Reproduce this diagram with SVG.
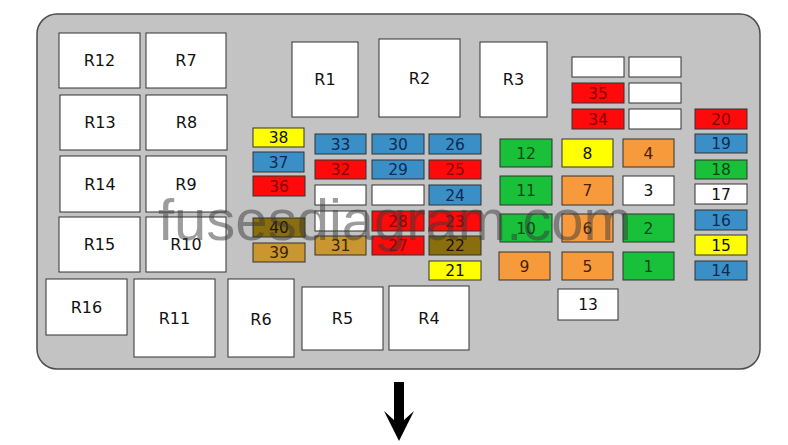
<svg xmlns="http://www.w3.org/2000/svg" width="788" height="445" viewBox="0 0 788 445">
<style>
.board{fill:#c3c3c3;stroke:#4d4d4d;stroke-width:1.5}
rect.n{stroke:#333;stroke-width:1}
.w{fill:#fff}.y{fill:#ffff00}.b{fill:#3b8fc7}.r{fill:#ff0a0a}.g{fill:#19c03a}.o{fill:#f79a3c}.ol{fill:#8a6d0c}.gd{fill:#c9962f}
text{font-family:"DejaVu Sans","Liberation Sans",sans-serif;text-anchor:middle}
.rl{font-size:16px;fill:#111}
.fl{font-size:15.5px}
.tw,.ty{fill:#111}.tb{fill:#0d2b55}.tr{fill:#8b0000}.tg{fill:#064a14}.to{fill:#4a1f00}.tol{fill:#1e1400}.tgd{fill:#3a2500}
.wm{font-family:"Liberation Sans",Arial,sans-serif;font-size:58px;fill:#3a3a3a;fill-opacity:0.5;text-anchor:start}
</style>
<rect class="board" x="37" y="14" width="723" height="355" rx="20"/>
<g id="R12"><rect class="n w" x="59" y="33" width="81" height="55"/><text class="rl" x="99.5" y="66">R12</text></g>
<g id="R7"><rect class="n w" x="146" y="33" width="80" height="55"/><text class="rl" x="186" y="66">R7</text></g>
<g id="R13"><rect class="n w" x="60" y="95" width="80" height="55"/><text class="rl" x="100" y="128">R13</text></g>
<g id="R8"><rect class="n w" x="146" y="95" width="81" height="55"/><text class="rl" x="186.5" y="128">R8</text></g>
<g id="R14"><rect class="n w" x="60" y="156" width="80" height="56"/><text class="rl" x="100" y="189.5">R14</text></g>
<g id="R9"><rect class="n w" x="146" y="156" width="80" height="56"/><text class="rl" x="186" y="189.5">R9</text></g>
<g id="R15"><rect class="n w" x="59" y="217" width="81" height="55"/><text class="rl" x="99.5" y="250">R15</text></g>
<g id="R10"><rect class="n w" x="146" y="217" width="80" height="55"/><text class="rl" x="186" y="250">R10</text></g>
<g id="R16"><rect class="n w" x="46" y="279" width="81" height="56"/><text class="rl" x="86.5" y="312.5">R16</text></g>
<g id="R11"><rect class="n w" x="134" y="279" width="81" height="78"/><text class="rl" x="174.5" y="323.5">R11</text></g>
<g id="R6"><rect class="n w" x="228" y="279" width="66" height="78"/><text class="rl" x="261" y="324.5">R6</text></g>
<g id="R5"><rect class="n w" x="302" y="287" width="81" height="63"/><text class="rl" x="342.5" y="324">R5</text></g>
<g id="R4"><rect class="n w" x="389" y="286" width="80" height="64"/><text class="rl" x="429" y="323.5">R4</text></g>
<g id="R1"><rect class="n w" x="292" y="42" width="66" height="75"/><text class="rl" x="325" y="85">R1</text></g>
<g id="R2"><rect class="n w" x="379" y="39" width="81" height="78"/><text class="rl" x="419.5" y="84">R2</text></g>
<g id="R3"><rect class="n w" x="480" y="42" width="67" height="75"/><text class="rl" x="513.5" y="85">R3</text></g>

<g id="F38"><rect class="n y" x="253" y="128" width="51" height="19"/><text class="fl ty" x="278.5" y="143">38</text></g>
<g id="F37"><rect class="n b" x="253" y="152" width="51" height="20"/><text class="fl tb" x="278.5" y="167.5">37</text></g>
<g id="F36"><rect class="n r" x="253" y="176" width="52" height="20"/><text class="fl tr" x="279" y="191.5">36</text></g>
<g id="F40"><rect class="n ol" x="253" y="218" width="52" height="19"/><text class="fl tol" x="279" y="233">40</text></g>
<g id="F39"><rect class="n gd" x="253" y="243" width="52" height="19"/><text class="fl tgd" x="279" y="258">39</text></g>
<g id="F33"><rect class="n b" x="315" y="134" width="51" height="20"/><text class="fl tb" x="340.5" y="149.5">33</text></g>
<g id="F32"><rect class="n r" x="315" y="160" width="51" height="19"/><text class="fl tr" x="340.5" y="175">32</text></g>
<g id="S1"><rect class="n w" x="315" y="185" width="51" height="20"/></g>
<g id="S2"><rect class="n w" x="315" y="211" width="51" height="20"/></g>
<g id="F31"><rect class="n gd" x="315" y="236" width="51" height="19"/><text class="fl tgd" x="340.5" y="251">31</text></g>
<g id="F30"><rect class="n b" x="372" y="134" width="52" height="20"/><text class="fl tb" x="398" y="149.5">30</text></g>
<g id="F29"><rect class="n b" x="372" y="160" width="52" height="19"/><text class="fl tb" x="398" y="175">29</text></g>
<g id="S3"><rect class="n w" x="372" y="185" width="52" height="20"/></g>
<g id="F28"><rect class="n r" x="372" y="211" width="52" height="20"/><text class="fl tr" x="398" y="226.5">28</text></g>
<g id="F27"><rect class="n r" x="372" y="236" width="52" height="19"/><text class="fl tr" x="398" y="251">27</text></g>
<g id="F26"><rect class="n b" x="429" y="134" width="52" height="20"/><text class="fl tb" x="455" y="149.5">26</text></g>
<g id="F25"><rect class="n r" x="429" y="160" width="52" height="19"/><text class="fl tr" x="455" y="175">25</text></g>
<g id="F24"><rect class="n b" x="429" y="185" width="52" height="20"/><text class="fl tb" x="455" y="200.5">24</text></g>
<g id="F23"><rect class="n r" x="429" y="211" width="52" height="20"/><text class="fl tr" x="455" y="226.5">23</text></g>
<g id="F22"><rect class="n ol" x="429" y="236" width="52" height="19"/><text class="fl tol" x="455" y="251">22</text></g>
<g id="F21"><rect class="n y" x="429" y="261" width="52" height="19"/><text class="fl ty" x="455" y="276">21</text></g>
<g id="S4"><rect class="n w" x="572" y="57" width="52" height="20"/></g>
<g id="S5"><rect class="n w" x="629" y="57" width="52" height="20"/></g>
<g id="F35"><rect class="n r" x="572" y="83" width="52" height="20"/><text class="fl tr" x="598" y="98.5">35</text></g>
<g id="S6"><rect class="n w" x="629" y="83" width="52" height="20"/></g>
<g id="F34"><rect class="n r" x="572" y="109" width="52" height="20"/><text class="fl tr" x="598" y="124.5">34</text></g>
<g id="S7"><rect class="n w" x="629" y="109" width="52" height="20"/></g>
<g id="F20"><rect class="n r" x="695" y="109" width="52" height="20"/><text class="fl tr" x="721" y="124.5">20</text></g>
<g id="F19"><rect class="n b" x="695" y="134" width="52" height="19"/><text class="fl tb" x="721" y="149">19</text></g>
<g id="F18"><rect class="n g" x="695" y="160" width="52" height="19"/><text class="fl tg" x="721" y="175">18</text></g>
<g id="F17"><rect class="n w" x="695" y="184" width="52" height="20"/><text class="fl tw" x="721" y="199.5">17</text></g>
<g id="F16"><rect class="n b" x="695" y="210" width="52" height="20"/><text class="fl tb" x="721" y="225.5">16</text></g>
<g id="F15"><rect class="n y" x="695" y="235" width="52" height="20"/><text class="fl ty" x="721" y="250.5">15</text></g>
<g id="F14"><rect class="n b" x="695" y="261" width="52" height="19"/><text class="fl tb" x="721" y="276">14</text></g>
<g id="F12"><rect class="n g" x="500" y="139" width="52" height="28"/><text class="fl tg" x="526" y="158.5">12</text></g>
<g id="F8"><rect class="n y" x="562" y="139" width="51" height="28"/><text class="fl ty" x="587.5" y="158.5">8</text></g>
<g id="F4"><rect class="n o" x="623" y="139" width="51" height="28"/><text class="fl to" x="648.5" y="158.5">4</text></g>
<g id="F11"><rect class="n g" x="500" y="176" width="52" height="29"/><text class="fl tg" x="526" y="196">11</text></g>
<g id="F7"><rect class="n o" x="562" y="176" width="51" height="29"/><text class="fl to" x="587.5" y="196">7</text></g>
<g id="F3"><rect class="n w" x="623" y="176" width="51" height="29"/><text class="fl tw" x="648.5" y="196">3</text></g>
<g id="F10"><rect class="n g" x="500" y="214" width="52" height="28"/><text class="fl tg" x="526" y="233.5">10</text></g>
<g id="F6"><rect class="n o" x="562" y="214" width="51" height="28"/><text class="fl to" x="587.5" y="233.5">6</text></g>
<g id="F2"><rect class="n g" x="623" y="214" width="51" height="28"/><text class="fl tg" x="648.5" y="233.5">2</text></g>
<g id="F9"><rect class="n o" x="499" y="252" width="51" height="28"/><text class="fl to" x="524.5" y="271.5">9</text></g>
<g id="F5"><rect class="n o" x="562" y="252" width="51" height="28"/><text class="fl to" x="587.5" y="271.5">5</text></g>
<g id="F1"><rect class="n g" x="623" y="252" width="51" height="28"/><text class="fl tg" x="648.5" y="271.5">1</text></g>
<g id="F13"><rect class="n w" x="558" y="289" width="60" height="31"/><text class="fl tw" x="588" y="310">13</text></g>

<g id="connectors"><polygon fill="#000" points="394,382 404,382 404,420 414,411 399,441 384,411 394,420"/></g>
<text class="wm" x="158" y="240">fusesdiagram.com</text>
</svg>
